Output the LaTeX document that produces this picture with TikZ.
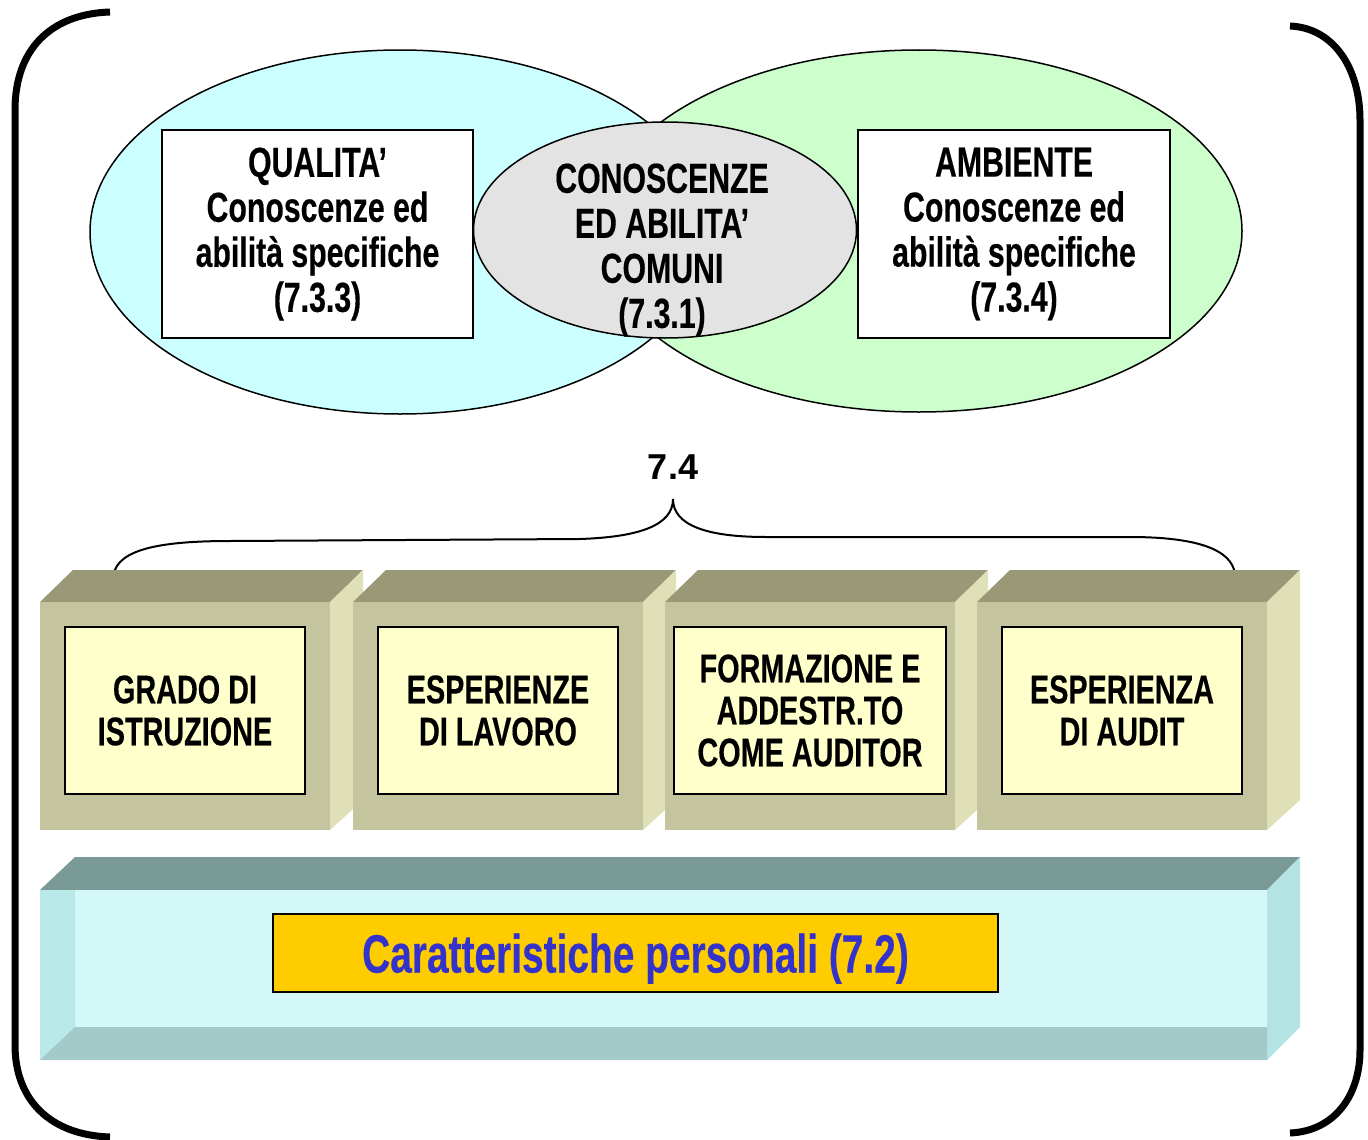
\documentclass[tikz,border=0pt]{standalone}
\usepackage{fontspec}
\setmainfont{Liberation Sans}[FakeStretch=0.72, FakeBold=0.3]
\newfontfamily\wideface{Liberation Sans}
\usetikzlibrary{shapes.geometric}

\definecolor{qualcyan}{HTML}{CCFFFF}
\definecolor{ambgreen}{HTML}{CCFFCC}
\definecolor{comgray}{HTML}{E3E3E3}
\definecolor{cubetopc}{HTML}{999977}
\definecolor{cubefrontc}{HTML}{C4C49E}
\definecolor{cubesidec}{HTML}{DFDFB8}
\definecolor{cubeinc}{HTML}{FFFFCC}
\definecolor{bartopc}{HTML}{7A9A98}
\definecolor{barfrontc}{HTML}{D4F8F8}
\definecolor{barleftc}{HTML}{B9E9E9}
\definecolor{barbotc}{HTML}{A3C9C9}
\definecolor{barsidec}{HTML}{B3E3E3}
\definecolor{traityel}{HTML}{FFCC00}
\definecolor{traitblue}{HTML}{3333CC}

\begin{document}
\begin{tikzpicture}[
    x = 1pt, y = -1pt, % picture in pixel units
    area/.style = {ellipse, draw = black, line width = 1.5pt, inner sep = 0pt},
    txt/.style = {align = center, inner sep = 0pt,
      font = \bfseries\fontsize{42}{45}\selectfont},
    txtbox/.style = {txt, draw = black, fill = white, line width = 1.5pt},
    cubelabel/.style = {align = center, draw = black, fill = cubeinc,
      line width = 1.5pt, minimum height = 167pt, inner sep = 0pt,
      font = \bfseries\fontsize{40}{42}\selectfont},
    bracket/.style = {line width = 7pt}
    ]

    \useasboundingbox (0,0) rectangle (1368,1140);

    % outer brackets
    \draw[bracket] (110,12) .. controls (50,14) and (15,50) .. (15,110)
      -- (15,1045) .. controls (15,1100) and (50,1135) .. (110,1137);
    \draw[bracket] (1290,26) .. controls (1335,28) and (1360,70) .. (1360,120)
      -- (1360,1050) .. controls (1360,1095) and (1335,1131) .. (1290,1133);

    % the three areas
    \node[area, fill = qualcyan, minimum width = 620pt, minimum height = 364pt]
      (qarea) at (400,232) {};
    \node[area, fill = ambgreen, minimum width = 646pt, minimum height = 362pt]
      (aarea) at (919,231) {};
    \node[area, fill = comgray, minimum width = 383pt, minimum height = 216pt]
      (carea) at (665,230) {};

    \node[txtbox, minimum width = 311pt, minimum height = 208pt] (qual)
      at (317.5,234) {QUALITA’\\Conoscenze ed\\abilità specifiche\\(7.3.3)};
    \node[txtbox, minimum width = 312pt, minimum height = 208pt] (amb)
      at (1014,234) {AMBIENTE\\Conoscenze ed\\abilità specifiche\\(7.3.4)};
    \node[txt] (com) at (662,250) {CONOSCENZE\\ED ABILITA’\\COMUNI\\(7.3.1)};

    % 7.4 and its brace
    \node[font = \wideface\bfseries\fontsize{36}{40}\selectfont] (sect)
      at (673,467) {7.4};
    \draw[line width = 2pt] (113,580) .. controls (113,552) and (150,541) .. (230,541)
      -- (580,539) .. controls (640,537) and (673,525) .. (673,499)
      .. controls (673,525) and (706,537) .. (766,537)
      -- (1130,537) .. controls (1210,537) and (1235,555) .. (1235,577);

    % the four blocks
    \foreach \xa/\bw/\lbl [count=\i] in {40/240/{GRADO DI\\ISTRUZIONE},
        353/240/{ESPERIENZE\\DI LAVORO},
        665/272/{FORMAZIONE E\\ADDESTR.TO\\COME AUDITOR},
        977/240/{ESPERIENZA\\DI AUDIT}}
    {
      \pgfmathsetmacro{\xb}{\xa+290}
      \fill[cubetopc] (\xa,602) -- (\xa+33,570) -- (\xb+33,570) -- (\xb,602) -- cycle;
      \fill[cubesidec] (\xb,602) -- (\xb+33,570) -- (\xb+33,800) -- (\xb,830) -- cycle;
      \fill[cubefrontc] (\xa,602) rectangle (\xb,830);
      \node[cubelabel, minimum width = \bw pt] (item\i) at (\xa+145,710.5) {\lbl};
    }

    % base bar
    \fill[bartopc] (40,890) -- (75,857) -- (1300,857) -- (1267,890) -- cycle;
    \fill[barsidec] (1267,890) -- (1300,857) -- (1300,1027) -- (1267,1060) -- cycle;
    \fill[barfrontc] (40,890) rectangle (1267,1060);
    \fill[barleftc] (40,890) -- (75,890) -- (75,1027) -- (40,1060) -- cycle;
    \fill[barbotc] (75,1027) -- (1267,1027) -- (1267,1060) -- (40,1060) -- cycle;
    \node[draw = black, fill = traityel, line width = 2pt, inner sep = 0pt,
      minimum width = 725pt, minimum height = 78pt, text = traitblue, text depth = 0pt,
      font = \bfseries\fontsize{54}{58}\selectfont] (traits)
      at (635.5,953) {Caratteristiche personali (7.2)};
\end{tikzpicture}
\end{document}
